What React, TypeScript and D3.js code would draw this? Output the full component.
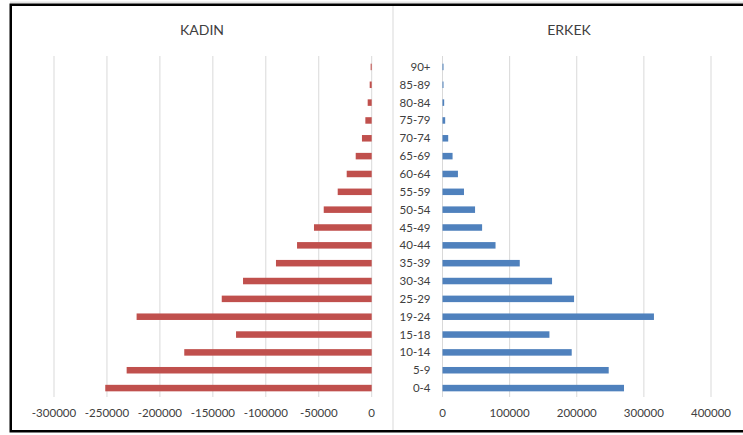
import React from "react";
import * as d3 from "d3";

const categories = ["0-4","5-9","10-14","15-18","19-24","25-29","30-34","35-39","40-44","45-49","50-54","55-59","60-64","65-69","70-74","75-79","80-84","85-89","90+"];
const kadin = [-251600,-231400,-177000,-128100,-222000,-141600,-121500,-90400,-70500,-54500,-45300,-32100,-23600,-15100,-9200,-6000,-3800,-1900,-1000];
const erkek = [270400,247600,192500,159300,315000,196000,163200,115100,79000,59000,48500,32000,23000,15000,8500,4000,2500,1500,1500];
const leftTicks = [-300000,-250000,-200000,-150000,-100000,-50000,0];
const rightTicks = [0,100000,200000,300000,400000];

const W = 743, H = 435;
const FONT = "Lato, 'Open Sans', sans-serif";

export default function App() {
  const y = d3.scaleBand<string>().domain([...categories].reverse()).range([58, 397]).paddingInner(0.635).paddingOuter(0.3175);
  const xl = d3.scaleLinear().domain([-300000, 0]).range([54, 371.7]);
  const xr = d3.scaleLinear().domain([0, 400000]).range([442.5, 711]);
  const grid = "#D9D9D9";
  return (
    <svg width={W} height={H} style={{ position: "fixed", left: 0, top: 0, background: "#fff" }} fontFamily={FONT}>
      <rect x={0} y={0} width={W} height={H} fill="#fff" />
      {leftTicks.map(t => (
        <line key={"gl" + t} x1={xl(t)} x2={xl(t)} y1={56} y2={397} stroke={grid} strokeWidth={1} />
      ))}
      {rightTicks.map(t => (
        <line key={"gr" + t} x1={xr(t)} x2={xr(t)} y1={56} y2={397} stroke={grid} strokeWidth={1} />
      ))}
      <line x1={393} x2={393} y1={6} y2={430} stroke={grid} strokeWidth={1} />
      {categories.map((c, i) => (
        <rect key={"k" + c} x={xl(kadin[i])} y={y(c)} width={xl(0) - xl(kadin[i])} height={y.bandwidth()} fill="#C0504D" />
      ))}
      {categories.map((c, i) => (
        <rect key={"e" + c} x={xr(0)} y={y(c)} width={xr(erkek[i]) - xr(0)} height={y.bandwidth()} fill="#4F81BD" />
      ))}
      {categories.map(c => (
        <text key={"c" + c} x={430.5} y={(y(c) as number) + y.bandwidth() / 2} dy="0.35em" textAnchor="end" fontSize={11.5} fill="#404040">{c}</text>
      ))}
      {leftTicks.map(t => (
        <text key={"tl" + t} x={xl(t)} y={417} textAnchor="middle" fontSize={11.5} fill="#404040">{t}</text>
      ))}
      {rightTicks.map(t => (
        <text key={"tr" + t} x={xr(t)} y={417} textAnchor="middle" fontSize={11.5} fill="#404040">{t}</text>
      ))}
      <text x={202} y={35} textAnchor="middle" fontSize={14} fill="#404040">KADIN</text>
      <text x={569} y={35} textAnchor="middle" fontSize={14} fill="#404040">ERKEK</text>
      <line x1={10} x2={W} y1={2.5} y2={2.5} stroke="#e4e4e4" strokeWidth={2} />
      <rect x={10.75} y={4.75} width={W} height={426.5} fill="none" stroke="#000" strokeWidth={2.5} />
    </svg>
  );
}
